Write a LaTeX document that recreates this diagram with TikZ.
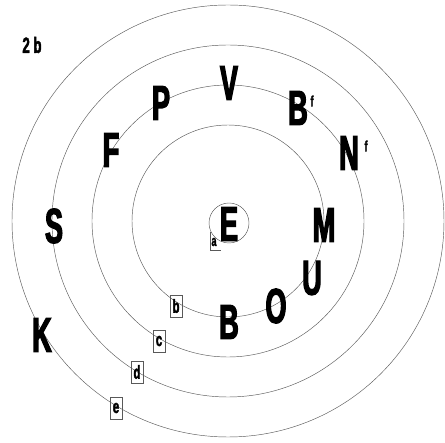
\documentclass[tikz,border=0pt]{standalone}
\usepackage{fontspec}
\newfontfamily\cond{Liberation Sans Bold}[FakeStretch=0.55, FakeBold=2.5]
\newfontfamily\condsmall{Liberation Sans Bold}[FakeStretch=0.6, FakeBold=2]
\begin{document}
\begin{tikzpicture}[x=1pt,y=-1pt,
  ring/.style={draw=black!65, line width=0.45pt},
  big/.style={font=\cond\fontsize{49pt}{49pt}\selectfont, inner sep=0pt, anchor=center},
  sup/.style={font=\condsmall\fontsize{15pt}{15pt}\selectfont, inner sep=0pt},
  tag/.style={draw=black!65, line width=0.4pt, minimum width=12pt, minimum height=22pt, inner sep=0pt,
     font=\condsmall\fontsize{19pt}{19pt}\selectfont},
  title/.style={font=\condsmall\fontsize{22pt}{22pt}\selectfont, inner sep=0pt}]
\useasboundingbox (0,0) rectangle (445,443);
\coordinate (ctr) at (228,221);
\draw[ring] (ctr) circle (96);
\draw[ring] (ctr) circle (136);
\draw[ring] (ctr) circle (176);
\draw[ring] (ctr) circle (216);
\draw[ring] (229,223) circle (20);
\node[title] (t) at (32,45) {2\,b};
\node[big] (P) at (161,103) {P};
\node[big] (V) at (229,83) {V};
\node[big] (B1) at (298,108) {B};
\node[sup] (f1) at (312,101) {f};
\node[big] (N) at (349,153) {N};
\node[sup] (f2) at (366,146) {f};
\node[big] (F) at (111,150) {F};
\node[big] (S) at (54,226) {S};
\node[big] (K) at (42,335) {K};
\node[big] (M) at (324,225) {M};
\node[big] (U) at (312,278) {U};
\node[big] (O) at (276,306) {O};
\node[big] (B2) at (229,322) {B};
\node[big] (E) at (229,224) {E};
\node[font=\condsmall\fontsize{15pt}{15pt}\selectfont, inner sep=0pt] (a) at (214,242) {a};
\draw[draw=black!65, line width=0.4pt] (210,232) -- (210,250) -- (221,250);
\node[tag] (b) at (176,306) {b};
\node[tag] (c) at (159,341) {c};
\node[tag] (d) at (137,372) {d};
\node[tag] (e) at (116,408) {e};
\end{tikzpicture}
\end{document}
